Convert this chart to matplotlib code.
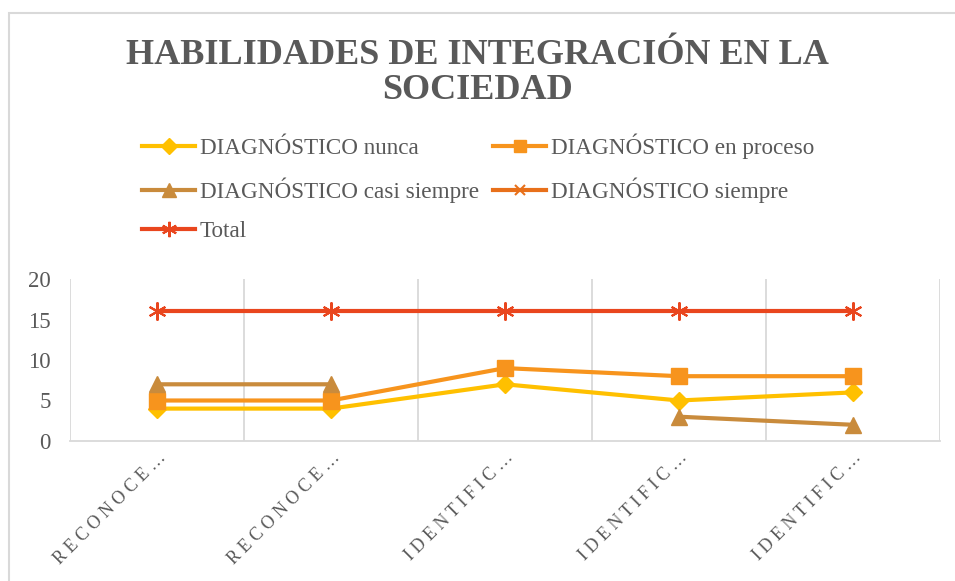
import numpy as np
import matplotlib.pyplot as plt
from matplotlib.patches import Rectangle

# data
categories = ['RECONOCE…', 'RECONOCE…', 'IDENTIFIC…', 'IDENTIFIC…', 'IDENTIFIC…']
nunca = [4, 4, 7, 5, 6]
en_proceso = [5, 5, 9, 8, 8]
casi_siempre = [7, 7, np.nan, 3, 2]
siempre = [np.nan, np.nan, np.nan, np.nan, np.nan]
total = [16, 16, 16, 16, 16]
yticks = [0, 5, 10, 15, 20]

plt.rcParams['font.family'] = ['Liberation Serif', 'DejaVu Serif']
gray = '#595959'

fig = plt.figure(figsize=(9.55, 5.81), dpi=100)
ax = fig.add_axes([70/955, 1 - 441/581, 870/955, 162/581])

x = np.arange(len(categories))
h1, = ax.plot(x, nunca, color='#FFC000', lw=3, marker='D', ms=9, label='DIAGNÓSTICO nunca')
h2, = ax.plot(x, en_proceso, color='#F7941D', lw=3, marker='s', ms=11, label='DIAGNÓSTICO en proceso')
h3, = ax.plot(x, casi_siempre, color='#C98B3C', lw=3, marker='^', ms=12, label='DIAGNÓSTICO casi siempre')
h4, = ax.plot(x, siempre, color='#E8701A', lw=3, marker='x', ms=9, mew=1.5, label='DIAGNÓSTICO siempre')
h5, = ax.plot(x, total, color='#E9461E', lw=3, marker=(6, 2, 0), ms=13, mew=1.5, label='Total')

ax.set_xlim(-0.5, len(categories) - 0.5)
ax.set_ylim(0, 20)
ax.set_yticks(yticks)
ax.set_yticklabels([str(v) for v in yticks], fontsize=16.5, color=gray)
ax.set_xticks(x)
ax.set_xticklabels([' '.join(c) for c in categories], rotation=45, ha='right', va='top',
                   rotation_mode='anchor', fontsize=13, color=gray)
ax.set_xticks(np.arange(-0.5, len(categories)), minor=True)
ax.grid(True, which='minor', axis='x', color='#d9d9d9', lw=1.3)
ax.tick_params(axis='both', which='both', length=0)
ax.tick_params(axis='y', pad=14)
ax.tick_params(axis='x', pad=6)
for s in ['top', 'right', 'left']:
    ax.spines[s].set_visible(False)
ax.spines['bottom'].set_color('#d9d9d9')
ax.spines['bottom'].set_linewidth(1.3)

fig.text(0.5, 1 - 73/581, 'HABILIDADES DE INTEGRACIÓN EN LA\nSOCIEDAD', ha='center', va='center',
         fontsize=26, fontweight='bold', color=gray, linespacing=1.1)

leg = fig.legend([h1, h3, h5, h2, h4], [h.get_label() for h in [h1, h3, h5, h2, h4]],
                 ncol=2, loc='upper left', bbox_to_anchor=(121/955, 1 - 113/581),
                 frameon=False, fontsize=16.7, handlelength=2.3, handletextpad=0.2,
                 columnspacing=0.6, labelspacing=0.78, labelcolor=gray, markerscale=0.85)

fig.patches.append(Rectangle((9/955, -0.1), 1.2, 1.1 - 13/581, transform=fig.transFigure,
                             fill=False, edgecolor='#d9d9d9', lw=1.5))

fig.savefig('out.png', dpi=100)
